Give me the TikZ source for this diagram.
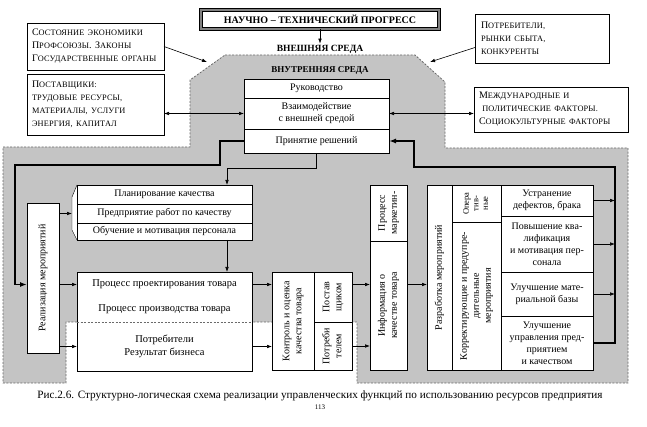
\documentclass[tikz,border=0pt]{standalone}
\usepackage{fontspec}
\setmainfont{Liberation Serif}
\newfontfamily\spacedfont[LetterSpace=2]{Liberation Serif}
\usetikzlibrary{arrows.meta, positioning}
\definecolor{RegionGray}{HTML}{C4C4C4}
\definecolor{RimGray}{HTML}{6A6A6A}
\newcommand{\smcp}[1]{{\spacedfont\fontsize{8.3}{9}\selectfont #1}}
\newcommand{\vtext}[1]{\rotatebox{90}{\begin{tabular}{@{}c@{}}#1\end{tabular}}}
\tikzset{
  span/.style args={#1/#2/#3/#4}{at={({(#1+#3)/2},{(#2+#4)/2})},
    minimum width={(#3)-(#1)}, minimum height={(#4)-(#2)}},
  cell/.style={rectangle, draw, fill=white, inner sep=0pt, outer sep=0pt,
    align=center, font=\fontsize{10}{12}\selectfont},
  open cell/.style={cell, draw=none},
  factor box/.style={rectangle, draw, fill=white, inner sep=0pt, outer sep=0pt,
    align=left, text width=#1, font=\fontsize{10}{13}\selectfont},
  rim/.style={draw=RimGray, line width=0.8pt, dash pattern=on 2pt off 1.5pt},
  region/.style={rim, fill=RegionGray},
  head/.style={font=\bfseries\fontsize{9.5}{11}\selectfont, inner sep=1pt},
  arrow/.style={-{Latex[length=5pt,width=3.6pt]}, semithick},
  darrow/.style={{Latex[length=5pt,width=3.6pt]}-{Latex[length=5pt,width=3.6pt]}, semithick},
  bus/.style={-{Latex[length=7pt,width=5pt]}, line width=1.8pt},
}
\begin{document}
\begin{tikzpicture}[x=1pt, y=-1pt]
  \useasboundingbox (0,0) rectangle (647,427);

  % gray region of the enterprise
  \path[region] (225,55) -- (415,55) -- (445,82) -- (445,148) -- (628,148)
    -- (628,383) -- (357,383) -- (357,322) -- (66,322) -- (66,383)
    -- (3,383) -- (3,147) -- (190,147) -- (190,80) -- cycle;

  \node[rectangle, draw, line width=0.8pt, double=gray, double distance=1.8pt,
    fill=white, inner sep=0pt, span=201/10/439/29,
    font=\bfseries\fontsize{10}{12}\selectfont] (title)
    {НАУЧНО – ТЕХНИЧЕСКИЙ ПРОГРЕСС};
  \node[head] (outer) at (320,49) {ВНЕШНЯЯ СРЕДА};
  \node[head, font=\bfseries\fontsize{9}{11}\selectfont] (inner) at (320,70) {ВНУТРЕННЯЯ СРЕДА};

  % external factors
  \node[factor box=127pt, span=27/23/164/70] (econ)
    {С\smcp{ОСТОЯНИЕ ЭКОНОМИКИ}\\П\smcp{РОФСОЮЗЫ}. З\smcp{АКОНЫ}\\Г\smcp{ОСУДАРСТВЕННЫЕ ОРГАНЫ}};
  \node[factor box=127pt, span=27/74/164/135] (sup)
    {П\smcp{ОСТАВЩИКИ:}\\\smcp{ТРУДОВЫЕ РЕСУРСЫ,}\\\smcp{МАТЕРИАЛЫ, УСЛУГИ}\\\smcp{ЭНЕРГИЯ, КАПИТАЛ}};
  \node[factor box=122pt, span=475/14/609/63] (cust)
    {П\smcp{ОТРЕБИТЕЛИ,}\\\smcp{РЫНКИ СБЫТА,}\\\smcp{КОНКУРЕНТЫ}};
  \node[factor box=144pt, span=474/87/628/132] (intl)
    {М\smcp{ЕЖДУНАРОДНЫЕ И}\\\ \smcp{ПОЛИТИЧЕСКИЕ ФАКТОРЫ.}\\С\smcp{ОЦИОКУЛЬТУРНЫЕ ФАКТОРЫ}};

  % management
  \node[cell, span=244/79/389/98] (lead) {Руководство};
  \node[cell, span=244/98/389/129] (inter) {Взаимодействие\\с внешней средой};
  \node[cell, span=244/129/389/153] (decide) {Принятие решений};

  % quality planning
  \draw[fill=white] (77,185) -- (72,197) -- (72,230) -- (77,240);
  \node[cell, span=77/185/252/204] (plan) {Планирование качества};
  \node[cell, span=77/204/252/223] (work) {Предприятие работ по качеству};
  \node[cell, span=77/223/252/240] (train) {Обучение и мотивация персонала};

  \node[cell, span=27/203/59/353] (real) {\vtext{Реализация мероприятий}};

  % product processes
  \node[cell, font=\fontsize{10.5}{12}\selectfont, span=77/272/252/297] (design) {Процесс проектирования товара};
  \node[open cell, font=\fontsize{10.5}{12}\selectfont, span=77/297/252/322] (prod) {Процесс производства товара};
  \node[open cell, font=\fontsize{10.5}{13}\selectfont, span=77/322/252/371] (cons) {Потребители\\Результат бизнеса};
  \draw (prod.north west) -- (cons.south west) -- (cons.south east) -- (prod.north east);
  \draw[rim] (prod.south west) -- (prod.south east);

  % control and information
  \node[cell, span=272/272/314/370] (ctrl) {\vtext{Контроль и оценка\\качества товара}};
  \node[cell, span=314/272/352/322] (supl) {\vtext{Постав\\щиком}};
  \node[cell, span=314/322/352/370] (custr) {\vtext{Потреби\\телем}};
  \node[cell, span=370/185/407/241] (mkt) {\vtext{Процесс\\маркетин-}};
  \node[cell, span=370/241/407/370] (info) {\vtext{Информация о\\качестве товара}};

  % measures
  \node[cell, span=427/185/452/370] (dev) {\vtext{Разработка мероприятий}};
  \node[cell, font=\fontsize{8.5}{9.5}\selectfont, span=452/185/501/222] (oper) {\vtext{Опера\\тив-\\ные}};
  \node[cell, span=452/222/501/370] (corr) {\vtext{Корректирующие и предупре-\\дительные\\мероприятия}};
  \node[cell, span=501/185/593/216] (defect) {Устранение\\дефектов, брака};
  \node[cell, span=501/216/593/272] (qual) {Повышение ква-\\лификация\\и мотивация пер-\\сонала};
  \node[cell, span=501/272/593/316] (base) {Улучшение мате-\\риальной базы};
  \node[cell, span=501/316/593/370] (mgmt) {Улучшение\\управления пред-\\приятием\\и качеством};

  \node[font=\fontsize{11.2}{13}\selectfont, inner sep=0pt] (caption) at (320,396)
    {Рис.2.6. Структурно-логическая схема реализации управленческих функций по использованию ресурсов предприятия};
  \node[font=\fontsize{7}{8}\selectfont, below=3pt of caption, inner sep=0pt] (page) {113};

  % connectors
  \coordinate (econT) at (207,62);
  \coordinate (custT) at (430,62);
  \coordinate (kneeL) at (220,165);
  \coordinate (busL) at (15,165);
  \coordinate (kneeR) at (414,167);
  \coordinate (busR) at (615,167);
  \coordinate (feedX) at (227,168);

  \draw[arrow] (title.south) -- (outer.north);
  \draw[arrow] (econ.east) -- (econT);
  \draw[arrow] ([yshift=-9pt]cust.west) -- (custT);
  \draw[darrow] (sup.east |- inter) -- (inter.west);
  \draw[darrow] (inter.east) -- (inter.east -| intl.west);

  \draw[bus] (decide.west) -| (kneeL) -- (busL) |- (real.west |- design);
  \draw[bus] (mgmt.east) -| (busR) -- (kneeR) |- (decide.east);
  \foreach \c in {defect, qual, base}
    \draw[arrow] (\c.east) -- (\c.east -| busR);

  \draw[arrow] (decide.south) |- (feedX) -- (feedX |- plan.north);
  \draw[arrow] (feedX |- train.south) -- (feedX |- design.north);
  \draw[arrow] (real.east |- work) -- ([xshift=-5pt]work.west);
  \draw[arrow] (real.east |- design) -- (design.west);
  \draw[arrow] (real.east |- cons) -- (cons.west);

  \draw[arrow] (design.east) -- (design.east -| ctrl.west);
  \draw[arrow] (cons.east) -- (cons.east -| ctrl.west);
  \draw[arrow] (design -| supl.east) -- (design -| info.west);
  \draw[arrow] (custr.east) -- (custr.east -| info.west);
  \draw[arrow] (design -| info.east) -- (design -| dev.west);
\end{tikzpicture}
\end{document}
